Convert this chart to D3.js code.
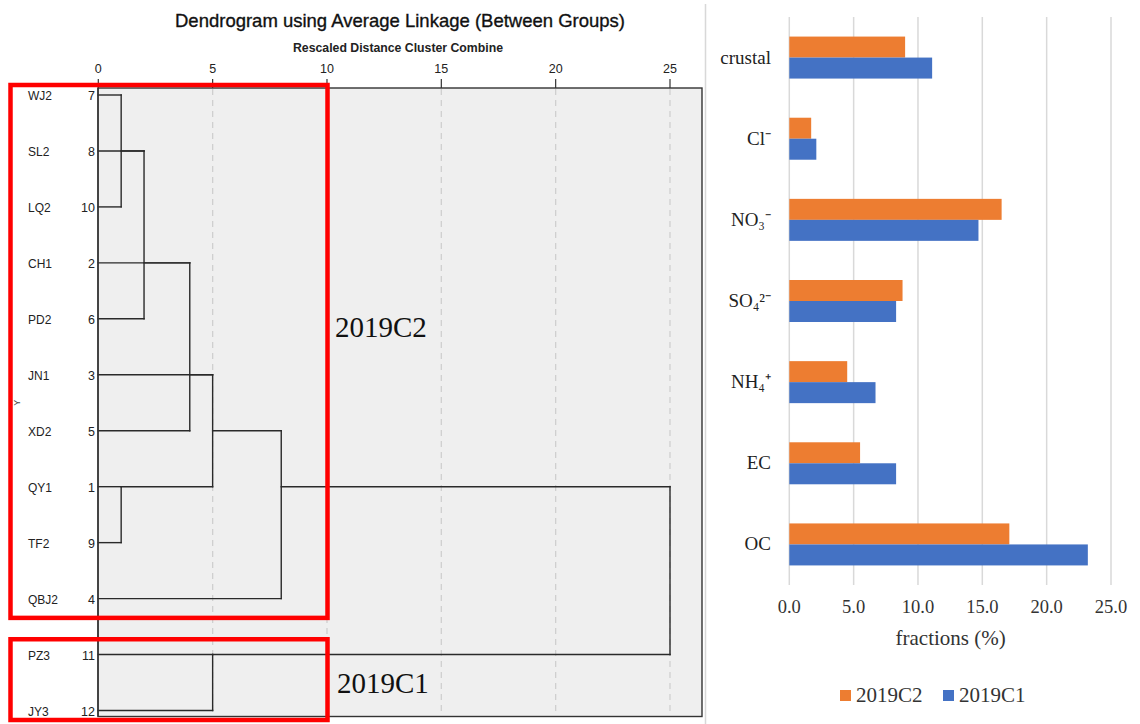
<!DOCTYPE html>
<html>
<head>
<meta charset="utf-8">
<script src="https://cdn.jsdelivr.net/npm/d3@7/dist/d3.min.js"></script>
<style>
  html, body { margin: 0; padding: 0; background: #fff; }
  svg { display: block; }
</style>
</head>
<body>
<script>
// ---------- dendrogram data ----------
const leafLabels = ["WJ2", "SL2", "LQ2", "CH1", "PD2", "JN1", "XD2", "QY1", "TF2", "QBJ2", "PZ3", "JY3"];
const caseNumbers = [7, 8, 10, 2, 6, 3, 5, 1, 9, 4, 11, 12];
const distanceTicks = [0, 5, 10, 15, 20, 25];
// agglomeration schedule: [cluster A, cluster B, rescaled distance, leaf row that carries the joined cluster]
const merges = [
  ["WJ2", "LQ2", 1, "SL2"],
  ["m0", "SL2", 2, "SL2"],
  ["m1", "PD2", 2, "CH1"],
  ["m2", "CH1", 4, "CH1"],
  ["m3", "XD2", 4, "JN1"],
  ["m4", "JN1", 5, "JN1"],
  ["QY1", "TF2", 1, "QY1"],
  ["m5", "m6", 5, "XD2"],
  ["m7", "QBJ2", 8, "QY1"],
  ["PZ3", "JY3", 5, "PZ3"],
  ["m8", "m9", 25, "QY1"]
];
// highlighted groups: [first leaf, last leaf, label]
const groups = [
  ["WJ2", "QBJ2", "2019C2"],
  ["PZ3", "JY3", "2019C1"]
];

// ---------- bar chart data ----------
const components = ["crustal", "Cl\u207B", "NO\u2083\u207B", "SO\u2084\u00B2\u207B", "NH\u2084\u207A", "EC", "OC"];
const series = ["2019C2", "2019C1"];
const fraction2019C2 = [9.0, 1.7, 16.5, 8.8, 4.5, 5.5, 17.1];
const fraction2019C1 = [11.1, 2.1, 14.7, 8.3, 6.7, 8.3, 23.2];
const fractionTicks = [0, 5, 10, 15, 20, 25];
const seriesColors = ["#ED7D31", "#4472C4"];

const svg = d3.select("body").append("svg")
  .attr("width", 1140).attr("height", 724);

// ================= dendrogram panel =================
const sans = "'Liberation Sans', Arial, sans-serif";
const narrow = "'Liberation Sans Narrow', 'Arial Narrow', 'Liberation Sans', Arial, sans-serif";
const serif = "'Liberation Serif', 'Times New Roman', serif";
const box = { left: 98, right: 702, top: 88, bottom: 716.5 };

const xD = d3.scaleLinear().domain([0, 25]).range([98.3, 670]);
const yD = d3.scaleLinear().domain([0, leafLabels.length - 1]).range([95, 710.5]);
const rowOf = name => leafLabels.indexOf(name);

// panel separator
svg.append("line")
  .attr("x1", 705.5).attr("x2", 705.5).attr("y1", 4).attr("y2", 724)
  .attr("stroke", "#d8d8d8").attr("stroke-width", 1.5);

// plot frame
svg.append("rect")
  .attr("x", box.left).attr("y", box.top)
  .attr("width", box.right - box.left).attr("height", box.bottom - box.top)
  .attr("fill", "#efefef").attr("stroke", "#333").attr("stroke-width", 1.4);

// dashed reference lines
svg.append("g").selectAll("line")
  .data(distanceTicks.filter(d => d > 0))
  .join("line")
  .attr("x1", d => xD(d)).attr("x2", d => xD(d))
  .attr("y1", box.top + 1).attr("y2", box.bottom - 1)
  .attr("stroke", "#cfcfcf").attr("stroke-width", 1.3)
  .attr("stroke-dasharray", "6,5");

// top distance axis
const topAxis = svg.append("g");
topAxis.selectAll("line.tick")
  .data(distanceTicks).join("line")
  .attr("x1", d => xD(d)).attr("x2", d => xD(d))
  .attr("y1", 79).attr("y2", box.top)
  .attr("stroke", "#333").attr("stroke-width", 1.2);
topAxis.selectAll("text")
  .data(distanceTicks).join("text")
  .attr("x", d => xD(d)).attr("y", 73)
  .attr("text-anchor", "middle")
  .attr("font-family", narrow).attr("font-size", 12.5).attr("fill", "#222")
  .text(d => d);

// titles
svg.append("text")
  .attr("x", 175).attr("y", 27)
  .attr("font-family", sans).attr("font-size", 19).attr("fill", "#111")
  .attr("stroke", "#111").attr("stroke-width", 0.35)
  .attr("textLength", 450).attr("lengthAdjust", "spacingAndGlyphs")
  .text("Dendrogram using Average Linkage (Between Groups)");
svg.append("text")
  .attr("x", 293).attr("y", 52)
  .attr("font-family", sans).attr("font-size", 12.5).attr("font-weight", "bold").attr("fill", "#222")
  .attr("textLength", 210).attr("lengthAdjust", "spacingAndGlyphs")
  .text("Rescaled Distance Cluster Combine");

// leaf labels and case numbers
svg.append("g").selectAll("text")
  .data(leafLabels).join("text")
  .attr("x", 28).attr("y", (d, i) => yD(i) + 5)
  .attr("font-family", narrow).attr("font-size", 12).attr("fill", "#222")
  .text(d => d);
svg.append("g").selectAll("text")
  .data(caseNumbers).join("text")
  .attr("x", 95).attr("y", (d, i) => yD(i) + 5)
  .attr("text-anchor", "end")
  .attr("font-family", narrow).attr("font-size", 12.5).attr("fill", "#222")
  .text(d => d);

// vertical axis name
svg.append("text")
  .attr("transform", `translate(20,${(yD(5) + yD(6)) / 2}) rotate(-90)`)
  .attr("text-anchor", "middle")
  .attr("font-family", sans).attr("font-size", 9).attr("fill", "#444")
  .text("Y");

// resolve tree links from the agglomeration schedule
const nodes = {};
leafLabels.forEach(l => { nodes[l] = { row: rowOf(l), dist: 0 }; });
const segs = [];
merges.forEach((m, i) => {
  const [a, b, dist, carrier] = m;
  const na = nodes[a], nb = nodes[b];
  [na, nb].forEach(n => {
    if (dist > n.dist) segs.push({ x0: n.dist, x1: dist, r0: n.row, r1: n.row });
  });
  if (na.row !== nb.row) segs.push({ x0: dist, x1: dist, r0: Math.min(na.row, nb.row), r1: Math.max(na.row, nb.row) });
  nodes["m" + i] = { row: rowOf(carrier), dist: dist };
});

svg.append("g").selectAll("line")
  .data(segs).join("line")
  .attr("x1", d => xD(d.x0)).attr("x2", d => xD(d.x1))
  .attr("y1", d => yD(d.r0)).attr("y2", d => yD(d.r1))
  .attr("stroke", "#2a2a2a").attr("stroke-width", 1.4)
  .attr("stroke-linecap", "square");

// left axis line over the links
svg.append("line")
  .attr("x1", box.left).attr("x2", box.left).attr("y1", box.top).attr("y2", box.bottom)
  .attr("stroke", "#333").attr("stroke-width", 1.4);

// group highlights: frame spans from the first to the last leaf row of each group
const groupPad = [[10, 19.3], [15.3, 9.5]];
const groupLabelY = [337, 693];
const gGroups = svg.append("g");
groups.forEach(([first, last, label], gi) => {
  const yTop = yD(rowOf(first)) - groupPad[gi][0];
  const yBot = yD(rowOf(last)) + groupPad[gi][1];
  gGroups.append("rect")
    .attr("x", 10.5).attr("y", yTop)
    .attr("width", 317).attr("height", yBot - yTop)
    .attr("fill", "none").attr("stroke", "#ff0000").attr("stroke-width", 4.5);
  gGroups.append("text")
    .attr("x", 335 + gi * 2).attr("y", groupLabelY[gi])
    .attr("font-family", serif)
    .attr("font-size", 29).attr("fill", "#111")
    .text(label);
});

// ================= bar chart panel =================
const xB = d3.scaleLinear().domain([0, 25]).range([789.3, 1111]);
const yB = d3.scaleBand().domain(components).range([17, 585]).paddingInner(0.4824).paddingOuter(0.2412);
const ySub = d3.scaleBand().domain(series).range([0, yB.bandwidth()]);

svg.append("g").selectAll("line")
  .data(fractionTicks).join("line")
  .attr("x1", d => xB(d)).attr("x2", d => xB(d))
  .attr("y1", 17).attr("y2", 585)
  .attr("stroke", "#d9d9d9").attr("stroke-width", 1.5);

const rows = components.map((c, i) => ({ c, values: [fraction2019C2[i], fraction2019C1[i]] }));
const barG = svg.append("g");
rows.forEach(r => {
  series.forEach((s, si) => {
    barG.append("rect")
      .attr("x", xB(0))
      .attr("y", yB(r.c) + ySub(s))
      .attr("width", xB(r.values[si]) - xB(0))
      .attr("height", ySub.bandwidth())
      .attr("fill", seriesColors[si]);
  });
});

// category labels
svg.append("g").selectAll("text")
  .data(components).join("text")
  .attr("x", 771).attr("y", d => yB(d) + yB.bandwidth() / 2 + 6)
  .attr("text-anchor", "end")
  .attr("font-family", serif).attr("font-size", 19).attr("fill", "#222")
  .text(d => d);

// value axis labels
svg.append("g").selectAll("text")
  .data(fractionTicks).join("text")
  .attr("x", d => xB(d)).attr("y", 613)
  .attr("text-anchor", "middle")
  .attr("font-family", serif).attr("font-size", 18.5).attr("fill", "#333")
  .text(d => d.toFixed(1));

svg.append("text")
  .attr("x", (xB(0) + xB(25)) / 2 + 0.5).attr("y", 645)
  .attr("text-anchor", "middle")
  .attr("font-family", serif).attr("font-size", 21).attr("fill", "#333")
  .text("fractions (%)");

// legend
const legendX = [840, 943];
series.forEach((s, si) => {
  svg.append("rect")
    .attr("x", legendX[si]).attr("y", 690)
    .attr("width", 11).attr("height", 11)
    .attr("fill", seriesColors[si]);
  svg.append("text")
    .attr("x", legendX[si] + 16).attr("y", 702)
    .attr("font-family", serif).attr("font-size", 21).attr("fill", "#333")
    .text(s);
});
</script>
</body>
</html>
